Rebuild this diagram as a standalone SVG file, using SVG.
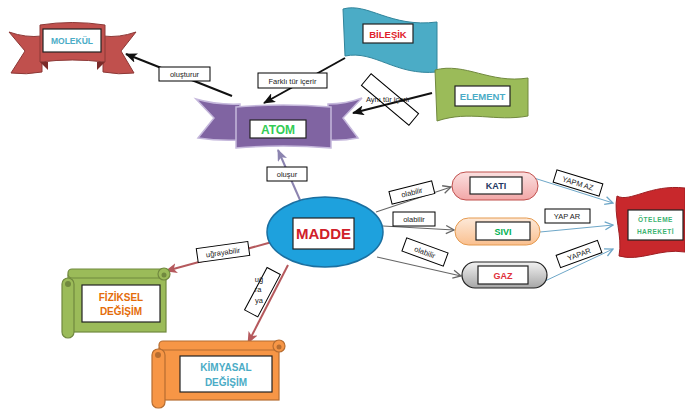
<svg xmlns="http://www.w3.org/2000/svg" width="685" height="411" viewBox="0 0 685 411">
<defs>
<style>
text{font-family:"Liberation Sans","Open Sans",Arial,sans-serif}
.lab{fill:#fff;stroke:#000;stroke-width:1}
.lt{font-size:7.5px;fill:#222;text-anchor:middle}
.nt{font-weight:bold;text-anchor:middle}
.box{fill:#fff;stroke:#222;stroke-width:1.2}
.blk{stroke:#111;stroke-width:2;fill:none}
.gry{stroke:#666;stroke-width:1.1;fill:none}
.blu{stroke:#6ea7c8;stroke-width:1;fill:none}
.red{stroke:#b5595d;stroke-width:2;fill:none}
.pur{stroke:#8c84b0;stroke-width:2;fill:none}
</style>
<marker id="aBlk" markerUnits="userSpaceOnUse" markerWidth="12" markerHeight="10" refX="11" refY="5" orient="auto"><path d="M0,0 L12,5 L0,10 L3,5 Z" fill="#111"/></marker>
<marker id="aPur" markerUnits="userSpaceOnUse" markerWidth="12" markerHeight="10" refX="11" refY="5" orient="auto"><path d="M0,0 L12,5 L0,10 L3,5 Z" fill="#8c84b0"/></marker>
<marker id="aGry" markerUnits="userSpaceOnUse" markerWidth="10" markerHeight="10" refX="9" refY="5" orient="auto"><path d="M1,1 L9,5 L1,9" fill="none" stroke="#666" stroke-width="1.3"/></marker>
<marker id="aBlu" markerUnits="userSpaceOnUse" markerWidth="10" markerHeight="10" refX="9" refY="5" orient="auto"><path d="M1,1 L9,5 L1,9" fill="none" stroke="#6ea7c8" stroke-width="1.3"/></marker>
<marker id="aRed" markerUnits="userSpaceOnUse" markerWidth="12" markerHeight="10" refX="11" refY="5" orient="auto"><path d="M0,0 L12,5 L0,10 L3,5 Z" fill="#b5595d"/></marker>
<linearGradient id="gKati" x1="0" y1="0" x2="0" y2="1"><stop offset="0" stop-color="#fbe0e0"/><stop offset="1" stop-color="#f2a7a7"/></linearGradient>
<linearGradient id="gSivi" x1="0" y1="0" x2="0" y2="1"><stop offset="0" stop-color="#fde9d9"/><stop offset="1" stop-color="#fac08f"/></linearGradient>
<linearGradient id="gGaz" x1="0" y1="0" x2="0" y2="1"><stop offset="0" stop-color="#f2f2f2"/><stop offset="1" stop-color="#a6a6a6"/></linearGradient>
</defs>
<rect width="685" height="411" fill="#fff"/>

<g id="connectors">
<line class="blk" x1="232" y1="96" x2="126" y2="54" marker-end="url(#aBlk)"/>
<line class="blk" x1="345" y1="58" x2="264" y2="103" marker-end="url(#aBlk)"/>
<line class="blk" x1="432" y1="93" x2="353" y2="113" marker-end="url(#aBlk)"/>
<line class="pur" x1="300" y1="200" x2="278" y2="150" marker-end="url(#aPur)"/>
<line class="gry" x1="376" y1="212" x2="451" y2="187" marker-end="url(#aGry)"/>
<line class="gry" x1="383" y1="226" x2="454" y2="230" marker-end="url(#aGry)"/>
<line class="gry" x1="377" y1="257" x2="461" y2="276" marker-end="url(#aGry)"/>
<line class="blu" x1="534" y1="178" x2="613" y2="203" marker-end="url(#aBlu)"/>
<line class="blu" x1="540" y1="232" x2="613" y2="225" marker-end="url(#aBlu)"/>
<line class="blu" x1="545" y1="281" x2="613" y2="249" marker-end="url(#aBlu)"/>
<line class="red" x1="272" y1="242" x2="166" y2="271" marker-end="url(#aRed)"/>
<line class="red" x1="288" y1="265" x2="248" y2="343" marker-end="url(#aRed)"/>

<rect class="lab" x="159" y="67" width="51" height="14"/>
<text class="lt" x="184.5" y="77">oluşturur</text>
<rect class="lab" x="258" y="73" width="69" height="15"/>
<text class="lt" x="292.5" y="84">Farklı tür içerir</text>
<text class="lt" x="388" y="102" fill="#555">Aynı tür içerir</text>
<rect class="lab" x="359" y="92" width="62" height="15" fill="none" style="fill:none" transform="rotate(40 390 99.5)"/>
<rect class="lab" x="267" y="167" width="40" height="14"/>
<text class="lt" x="287" y="177">oluşur</text>
<g transform="rotate(-14 412 193)"><rect class="lab" x="390" y="186" width="44" height="13"/><text class="lt" x="412" y="195">olabilir</text></g>
<rect class="lab" x="393" y="212" width="42" height="14"/>
<text class="lt" x="414" y="222">olabilir</text>
<g transform="rotate(20 425 252)"><rect class="lab" x="403" y="245" width="44" height="14"/><text class="lt" x="425" y="255">olabilir</text></g>
<g transform="rotate(17 578 183)"><rect class="lab" x="554" y="176.5" width="48" height="13"/><text class="lt" x="578" y="186">YAPM AZ</text></g>
<rect class="lab" x="545" y="209" width="45" height="14"/>
<text class="lt" x="567" y="219">YAP AR</text>
<g transform="rotate(-20 579 254)"><rect class="lab" x="557" y="247.5" width="44" height="13"/><text class="lt" x="579" y="257">YAPAR</text></g>
<g transform="rotate(-8 223 252)"><rect class="lab" x="197" y="245" width="52" height="14"/><text class="lt" x="223" y="255">uğrayabilir</text></g>
<rect class="lab" x="255" y="268" width="15" height="48" transform="rotate(28 262 292)"/>
<text class="lt" x="259" y="282">uğ</text>
<text class="lt" x="258" y="292">ra</text>
<text class="lt" x="259" y="303">ya</text>
</g>

<g id="molekul">
<path d="M9,32 Q26,38 42,36 L42,72 Q26,75 11,73 L25,51 Z" fill="#c0504d" stroke="#8c3836" stroke-width="1"/>
<path d="M103,36 Q119,38 136,32 L121,51 L134,73 Q119,75 103,72 Z" fill="#c0504d" stroke="#8c3836" stroke-width="1"/>
<path d="M40,62 L48,62 L48,70 Z" fill="#7a2b29"/>
<path d="M105,62 L97,62 L97,70 Z" fill="#7a2b29"/>
<path d="M40,25 Q72,20 105,25 L105,62 Q72,58 40,62 Z" fill="#c0504d" stroke="#8c3836" stroke-width="1"/>
<rect class="box" x="43" y="29" width="58" height="23"/>
<text class="nt" x="72" y="44" font-size="8.5" fill="#4bacc6">MOLEKÜL</text>
</g>

<g id="atom">
<path d="M196,99 Q216,105 240,104 L240,140 Q218,141 198,138 L214,118 Z" fill="#8064a2" stroke="#c5b8dc" stroke-width="1.5"/>
<path d="M328,104 Q346,104 362,98 L343,118 L358,138 Q342,141 328,140 Z" fill="#8064a2" stroke="#c5b8dc" stroke-width="1.5"/>
<path d="M236,107 Q283,103 331,107 L331,148 Q283,144 236,148 Z" fill="#8064a2" stroke="#c5b8dc" stroke-width="1.5"/>
<rect class="box" x="250" y="120" width="56" height="18"/>
<text class="nt" x="278" y="134" font-size="12" fill="#33cc55">ATOM</text>
</g>

<g id="bilesik">
<path d="M343,9 C368,2 390,28 437,22 L437,72 C395,76 375,50 345,56 Z" fill="#4bacc6" stroke="#31849b" stroke-width="1"/>
<rect class="box" x="363" y="24" width="50" height="19"/>
<text class="nt" x="388" y="37.5" font-size="9.5" fill="#e0202a">BİLEŞİK</text>
</g>

<g id="element">
<path d="M435,70 C465,62 490,84 528,78 L528,116 C495,122 470,110 437,121 Z" fill="#9bbb59" stroke="#71893f" stroke-width="1"/>
<rect class="box" x="455" y="86" width="55" height="20"/>
<text class="nt" x="482.5" y="100" font-size="9.5" fill="#4bacc6">ELEMENT</text>
</g>

<g id="madde">
<ellipse cx="325" cy="232" rx="58" ry="35" fill="#1ea1dd" stroke="#1a6fa0" stroke-width="1.5"/>
<rect class="box" x="293" y="218" width="61" height="31"/>
<text class="nt" x="323.5" y="239" font-size="15" fill="#d0202a">MADDE</text>
</g>

<g id="kati">
<rect x="452" y="172" width="86" height="28" rx="14" fill="url(#gKati)" stroke="#c0504d" stroke-width="1"/>
<rect class="box" x="470" y="177" width="52" height="17"/>
<text class="nt" x="496" y="189" font-size="9" fill="#1f3864">KATI</text>
</g>

<g id="sivi">
<rect x="455" y="218" width="85" height="27" rx="13.5" fill="url(#gSivi)" stroke="#e59a4f" stroke-width="1"/>
<rect class="box" x="476" y="222" width="54" height="18"/>
<text class="nt" x="503" y="235" font-size="9" fill="#00b050">SIVI</text>
</g>

<g id="gaz">
<rect x="462" y="262" width="85" height="26" rx="13" fill="url(#gGaz)" stroke="#222" stroke-width="1.2"/>
<rect class="box" x="478" y="266" width="50" height="18"/>
<text class="nt" x="503" y="279" font-size="9" fill="#e0303a">GAZ</text>
</g>

<g id="oteleme">
<path d="M617,196 C630,203 650,184 685,188 L685,252 C660,248 640,262 619,256 C623,236 613,215 617,196 Z" fill="#c8282c" stroke="#9e1e22" stroke-width="1"/>
<rect class="box" x="628" y="210" width="55" height="30"/>
<text class="nt" x="655.5" y="222" font-size="6.5" fill="#3cb371" letter-spacing="0.5">ÖTELEME</text>
<text class="nt" x="655.5" y="234" font-size="6.5" fill="#3cb371" letter-spacing="0.5">HAREKETİ</text>
</g>

<g id="fiziksel">
<rect x="68" y="275" width="98" height="57" fill="#9bbb59" stroke="#71893f" stroke-width="1.2"/>
<rect x="68" y="269" width="98" height="9" rx="4" fill="#9bbb59" stroke="#71893f" stroke-width="1.2"/>
<circle cx="164" cy="274" r="6" fill="#9bbb59" stroke="#71893f" stroke-width="1.2"/>
<circle cx="164" cy="275" r="2.5" fill="#71893f"/>
<rect x="62" y="278" width="12" height="60" rx="6" fill="#9bbb59" stroke="#71893f" stroke-width="1.2"/>
<circle cx="68" cy="284" r="3" fill="#71893f"/>
<rect class="box" x="82" y="285" width="78" height="37"/>
<text class="nt" x="121" y="301" font-size="10" fill="#e46c0a">FİZİKSEL</text>
<text class="nt" x="121" y="315" font-size="10" fill="#e46c0a">DEĞİŞİM</text>
</g>

<g id="kimyasal">
<rect x="159" y="348" width="120" height="52" fill="#f79646" stroke="#b66d31" stroke-width="1.2"/>
<rect x="159" y="341" width="120" height="9" rx="4" fill="#f79646" stroke="#b66d31" stroke-width="1.2"/>
<circle cx="279" cy="346" r="6" fill="#f79646" stroke="#b66d31" stroke-width="1.2"/>
<circle cx="279" cy="347" r="2.5" fill="#b66d31"/>
<rect x="152" y="349" width="13" height="59" rx="6" fill="#f79646" stroke="#b66d31" stroke-width="1.2"/>
<circle cx="158" cy="355" r="3" fill="#b66d31"/>
<rect class="box" x="180" y="356" width="92" height="36"/>
<text class="nt" x="226" y="371" font-size="10" fill="#4bacc6">KİMYASAL</text>
<text class="nt" x="226" y="386" font-size="10" fill="#4bacc6">DEĞİŞİM</text>
</g>
</svg>
